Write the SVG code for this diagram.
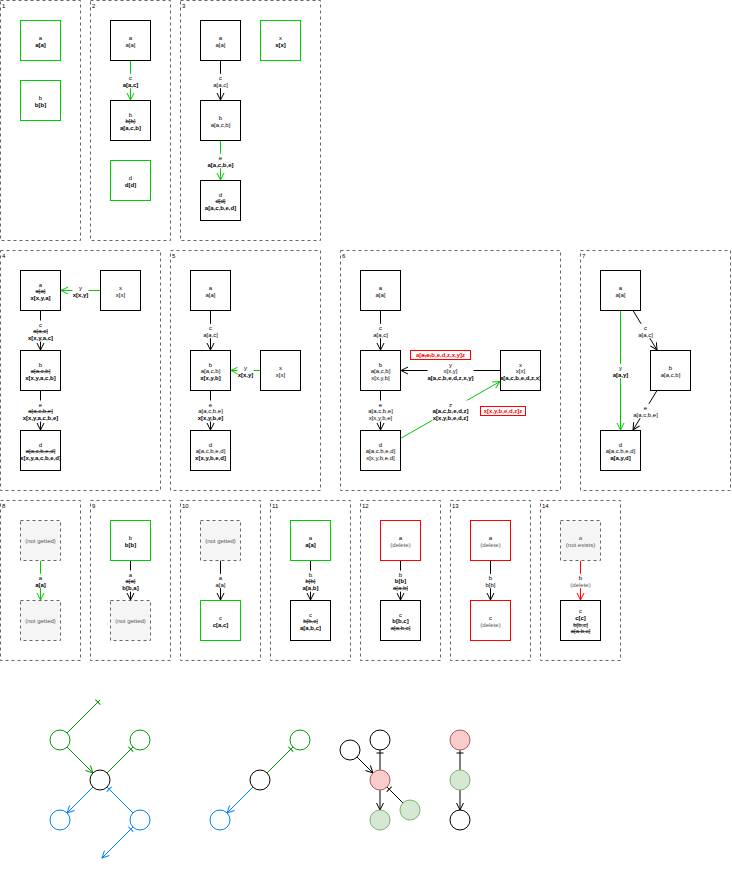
<svg xmlns="http://www.w3.org/2000/svg" width="732" height="870" viewBox="0 0 732 870">
<style>
text{font-family:"Liberation Sans",Arial,Helvetica,sans-serif;font-size:6px;text-anchor:middle;fill:#000}
.b{font-weight:bold}
.s{text-decoration:line-through}
.g{fill:#555}
.rt{fill:#f00;font-weight:bold}
.pl{text-anchor:start}
.pn{fill:none;stroke:#666;stroke-dasharray:3 3}
.nd{fill:#fff;stroke:#000}
.ngr{fill:#fff;stroke:#00cc00}
.nrd{fill:#fff;stroke:#f00}
.nx{fill:#f5f5f5;stroke:#666;stroke-dasharray:3 3}
.e{fill:none;stroke:#000}
.eg{fill:none;stroke:#00cc00}
.er{fill:none;stroke:#f00}
.bg{fill:#fff}
.cw{fill:#fff;stroke:#000}
.cg{fill:#fff;stroke:#009900}
.cb{fill:#fff;stroke:#007fff}
.cr{fill:#f8cecc;stroke:#b85450}
.cgf{fill:#d5e8d4;stroke:#82b366}
.lg{fill:none;stroke:#009900}
.lb{fill:none;stroke:#007fff}
</style>
<defs>
<marker id="ab" viewBox="-8 -5 10 10" markerWidth="10" markerHeight="10" refX="0" refY="0" orient="auto" markerUnits="userSpaceOnUse"><path d="M-7,-3.5L0,0L-7,3.5" fill="none" stroke="#000"/></marker>
<marker id="ag" viewBox="-8 -5 10 10" markerWidth="10" markerHeight="10" refX="0" refY="0" orient="auto" markerUnits="userSpaceOnUse"><path d="M-7,-3.5L0,0L-7,3.5" fill="none" stroke="#00cc00"/></marker>
<marker id="ar" viewBox="-8 -5 10 10" markerWidth="10" markerHeight="10" refX="0" refY="0" orient="auto" markerUnits="userSpaceOnUse"><path d="M-7,-3.5L0,0L-7,3.5" fill="none" stroke="#f00"/></marker>
<marker id="adg" viewBox="-8 -5 10 10" markerWidth="10" markerHeight="10" refX="0" refY="0" orient="auto" markerUnits="userSpaceOnUse"><path d="M-7,-3.5L0,0L-7,3.5" fill="none" stroke="#009900"/></marker>
<marker id="abl" viewBox="-8 -5 10 10" markerWidth="10" markerHeight="10" refX="0" refY="0" orient="auto" markerUnits="userSpaceOnUse"><path d="M-7,-3.5L0,0L-7,3.5" fill="none" stroke="#007fff"/></marker>
<marker id="tb" viewBox="-8 -5 10 10" markerWidth="10" markerHeight="10" refX="0" refY="0" orient="auto-start-reverse" markerUnits="userSpaceOnUse"><path d="M-3,-3.5V3.5" fill="none" stroke="#000"/></marker>
<marker id="tdg" viewBox="-8 -5 10 10" markerWidth="10" markerHeight="10" refX="0" refY="0" orient="auto-start-reverse" markerUnits="userSpaceOnUse"><path d="M-3,-3.5V3.5" fill="none" stroke="#009900"/></marker>
<marker id="tbl" viewBox="-8 -5 10 10" markerWidth="10" markerHeight="10" refX="0" refY="0" orient="auto-start-reverse" markerUnits="userSpaceOnUse"><path d="M-3,-3.5V3.5" fill="none" stroke="#007fff"/></marker>
</defs>
<rect width="732" height="870" fill="#fff"/>

<!-- frames -->
<g id="frames">
<rect class="pn" x="0.5" y="0.5" width="80" height="240"/><text class="pl" x="2" y="8">1</text>
<rect class="pn" x="90.5" y="0.5" width="80" height="240"/><text class="pl" x="92" y="8">2</text>
<rect class="pn" x="180.5" y="0.5" width="140" height="240"/><text class="pl" x="182" y="8">3</text>
<rect class="pn" x="0.5" y="250.5" width="160" height="240"/><text class="pl" x="2" y="258">4</text>
<rect class="pn" x="170.5" y="250.5" width="150" height="240"/><text class="pl" x="172" y="258">5</text>
<rect class="pn" x="340.5" y="250.5" width="220" height="240"/><text class="pl" x="342" y="258">6</text>
<rect class="pn" x="580.5" y="250.5" width="150" height="240"/><text class="pl" x="582" y="258">7</text>
<rect class="pn" x="0.5" y="500.5" width="80" height="160"/><text class="pl" x="2" y="508">8</text>
<rect class="pn" x="90.5" y="500.5" width="80" height="160"/><text class="pl" x="92" y="508">9</text>
<rect class="pn" x="180.5" y="500.5" width="80" height="160"/><text class="pl" x="182" y="508">10</text>
<rect class="pn" x="270.5" y="500.5" width="80" height="160"/><text class="pl" x="272" y="508">11</text>
<rect class="pn" x="360.5" y="500.5" width="80" height="160"/><text class="pl" x="362" y="508">12</text>
<rect class="pn" x="450.5" y="500.5" width="80" height="160"/><text class="pl" x="452" y="508">13</text>
<rect class="pn" x="540.5" y="500.5" width="80" height="160"/><text class="pl" x="542" y="508">14</text>
</g>

<!-- connectors -->
<g id="connectors">
<!-- 2 -->
<line class="eg" x1="130.5" y1="60.5" x2="130.5" y2="100" marker-end="url(#ag)"/>
<!-- 3 -->
<line class="e" x1="220.5" y1="60.5" x2="220.5" y2="100" marker-end="url(#ab)"/>
<line class="eg" x1="220.5" y1="140.5" x2="220.5" y2="180" marker-end="url(#ag)"/>
<!-- 4 -->
<line class="eg" x1="100.5" y1="290.5" x2="61" y2="290.5" marker-end="url(#ag)"/>
<line class="e" x1="40.5" y1="310.5" x2="40.5" y2="350" marker-end="url(#ab)"/>
<line class="e" x1="40.5" y1="390.5" x2="40.5" y2="430" marker-end="url(#ab)"/>
<!-- 5 -->
<line class="e" x1="210.5" y1="310.5" x2="210.5" y2="350" marker-end="url(#ab)"/>
<line class="eg" x1="260.5" y1="370.5" x2="231" y2="370.5" marker-end="url(#ag)"/>
<line class="e" x1="210.5" y1="390.5" x2="210.5" y2="430" marker-end="url(#ab)"/>
<!-- 6 -->
<line class="e" x1="380.5" y1="310.5" x2="380.5" y2="350" marker-end="url(#ab)"/>
<line class="e" x1="380.5" y1="390.5" x2="380.5" y2="430" marker-end="url(#ab)"/>
<line class="e" x1="500.5" y1="370.5" x2="401" y2="370.5" marker-end="url(#ab)"/>
<line class="eg" x1="400.5" y1="438.5" x2="500" y2="381.5" marker-end="url(#ag)"/>
<!-- 7 -->
<line class="e" x1="633" y1="310.5" x2="657" y2="350" marker-end="url(#ab)"/>
<line class="e" x1="657" y1="390.5" x2="633" y2="430" marker-end="url(#ab)"/>
<line class="eg" x1="620.5" y1="310.5" x2="620.5" y2="430" marker-end="url(#ag)"/>
<!-- 8..14 -->
<line class="eg" x1="40.5" y1="560.5" x2="40.5" y2="600" marker-end="url(#ag)"/>
<line class="e" x1="130.5" y1="560.5" x2="130.5" y2="600" marker-end="url(#ab)"/>
<line class="e" x1="220.5" y1="560.5" x2="220.5" y2="600" marker-end="url(#ab)"/>
<line class="e" x1="310.5" y1="560.5" x2="310.5" y2="600" marker-end="url(#ab)"/>
<line class="e" x1="400.5" y1="560.5" x2="400.5" y2="600" marker-end="url(#ab)"/>
<line class="e" x1="490.5" y1="560.5" x2="490.5" y2="600" marker-end="url(#ab)"/>
<line class="er" x1="580.5" y1="560.5" x2="580.5" y2="600" marker-end="url(#ar)"/>

<!-- label backgrounds -->
<rect class="bg" x="121.5" y="73.8" width="18" height="14.4"/>
<rect class="bg" x="212" y="73.8" width="17" height="14.4"/>
<rect class="bg" x="206.5" y="153.8" width="28" height="14.4"/>
<rect class="bg" x="72.5" y="283.8" width="16" height="14.4"/>
<rect class="bg" x="26.5" y="320.5" width="28" height="21.1"/>
<rect class="bg" x="21.5" y="400.5" width="38" height="21.1"/>
<rect class="bg" x="202" y="323.8" width="17" height="14.4"/>
<rect class="bg" x="237.5" y="363.8" width="16" height="14.4"/>
<rect class="bg" x="196.5" y="400.5" width="28" height="21.1"/>
<rect class="bg" x="372" y="323.8" width="17" height="14.4"/>
<rect class="bg" x="367" y="400.5" width="27" height="21.1"/>
<rect class="bg" x="427.5" y="360.5" width="46" height="21.1"/>
<rect class="bg" x="432.5" y="400.5" width="36" height="21.1"/>
<rect class="bg" x="637" y="323.8" width="17" height="14.4"/>
<rect class="bg" x="632" y="403.8" width="27" height="14.4"/>
<rect class="bg" x="611.5" y="363.8" width="18" height="14.4"/>
<rect class="bg" x="34" y="573.8" width="13" height="14.4"/>
<rect class="bg" x="121.5" y="570.5" width="18" height="21.1"/>
<rect class="bg" x="214.5" y="573.8" width="12" height="14.4"/>
<rect class="bg" x="301.5" y="570.5" width="18" height="21.1"/>
<rect class="bg" x="391.5" y="570.5" width="18" height="21.1"/>
<rect class="bg" x="484.5" y="573.8" width="12" height="14.4"/>
<rect class="bg" x="569.5" y="573.8" width="22" height="14.4"/>

<!-- labels -->
<text x="130.5" y="79.8">c<tspan x="130.5" dy="6.7" class="b">a[a,c]</tspan></text>
<text x="220.5" y="79.8">c<tspan x="220.5" dy="6.7">a[a,c]</tspan></text>
<text x="220.5" y="159.8">e<tspan x="220.5" dy="6.7" class="b">a[a,c,b,e]</tspan></text>
<text x="80.5" y="289.8">y<tspan x="80.5" dy="6.7" class="b">x[x,y]</tspan></text>
<text x="40.5" y="326.5">c<tspan x="40.5" dy="6.7" class="s">a[a,c]</tspan><tspan x="40.5" dy="6.7" class="b">x[x,y,a,c]</tspan></text>
<text x="40.5" y="406.5">e<tspan x="40.5" dy="6.7" class="s">a[a,c,b,e]</tspan><tspan x="40.5" dy="6.7" class="b">x[x,y,a,c,b,e]</tspan></text>
<text x="210.5" y="329.8">c<tspan x="210.5" dy="6.7">a[a,c]</tspan></text>
<text x="245.5" y="369.8">y<tspan x="245.5" dy="6.7" class="b">x[x,y]</tspan></text>
<text x="210.5" y="406.5">e<tspan x="210.5" dy="6.7">a[a,c,b,e]</tspan><tspan x="210.5" dy="6.7" class="b">x[x,y,b,e]</tspan></text>
<text x="380.5" y="329.8">c<tspan x="380.5" dy="6.7">a[a,c]</tspan></text>
<text x="380.5" y="406.5">e<tspan x="380.5" dy="6.7">a[a,c,b,e]</tspan><tspan x="380.5" dy="6.7">x[x,y,b,e]</tspan></text>
<text x="450.5" y="366.5">y<tspan x="450.5" dy="6.7">x[x,y]</tspan><tspan x="450.5" dy="6.7" class="b">a[a,c,b,e,d,z,x,y]</tspan></text>
<text x="450.5" y="406.5">z<tspan x="450.5" dy="6.7" class="b">a[a,c,b,e,d,z]</tspan><tspan x="450.5" dy="6.7" class="b">x[x,y,b,e,d,z]</tspan></text>
<text x="645.5" y="329.8">c<tspan x="645.5" dy="6.7">a[a,c]</tspan></text>
<text x="645.5" y="409.8">e<tspan x="645.5" dy="6.7">a[a,c,b,e]</tspan></text>
<text x="620.5" y="369.8">y<tspan x="620.5" dy="6.7" class="b">a[a,y]</tspan></text>
<text x="40.5" y="579.8">a<tspan x="40.5" dy="6.7" class="b">a[a]</tspan></text>
<text x="130.5" y="576.5">a<tspan x="130.5" dy="6.7" class="s">a[a]</tspan><tspan x="130.5" dy="6.7" class="b">b[b,a]</tspan></text>
<text x="220.5" y="579.8">a<tspan x="220.5" dy="6.7">a[a]</tspan></text>
<text x="310.5" y="576.5">b<tspan x="310.5" dy="6.7" class="s">b[b]</tspan><tspan x="310.5" dy="6.7" class="b">a[a,b]</tspan></text>
<text x="400.5" y="576.5">b<tspan x="400.5" dy="6.7" class="b">b[b]</tspan><tspan x="400.5" dy="6.7" class="s">a[a,b]</tspan></text>
<text x="490.5" y="579.8">b<tspan x="490.5" dy="6.7">b[b]</tspan></text>
<text x="580.5" y="579.8">b<tspan x="580.5" dy="6.7" class="g">(delete)</tspan></text>

<!-- conflict notes -->
<rect x="410.5" y="350.5" width="60" height="9" fill="#fff" stroke="#f00"/>
<text class="rt" x="440.5" y="357.2">a[<tspan class="s">a,c,</tspan>b,e,d,z,x,y]z</text>
<rect x="480.5" y="406.5" width="45" height="9" fill="#fff" stroke="#f00"/>
<text class="rt" x="503" y="413.2">x[x,y,b,e,d,z]z</text>

<!-- small graphs -->
<line class="lg" x1="67.1" y1="732.9" x2="100" y2="700" marker-end="url(#tdg)"/>
<line class="lg" x1="67.1" y1="747.1" x2="92.9" y2="772.9" marker-end="url(#adg)"/>
<line class="lg" x1="107.1" y1="772.9" x2="132.9" y2="747.1" marker-end="url(#tdg)"/>
<line class="lb" x1="92.9" y1="787.1" x2="67.1" y2="812.9" marker-end="url(#abl)"/>
<line class="lb" x1="132.9" y1="812.9" x2="107.1" y2="787.1" marker-end="url(#tbl)"/>
<line class="lb" x1="132.9" y1="827.1" x2="102" y2="858" marker-start="url(#tbl)" marker-end="url(#abl)"/>
<line class="lg" x1="267.1" y1="772.9" x2="292.9" y2="747.1" marker-end="url(#tdg)"/>
<line class="lb" x1="252.9" y1="787.1" x2="227.1" y2="812.9" marker-end="url(#abl)"/>
<line class="e" x1="357.1" y1="757.1" x2="372.9" y2="772.9" marker-end="url(#ab)"/>
<line class="e" x1="380" y1="750" x2="380" y2="770" marker-start="url(#tb)"/>
<line class="e" x1="380" y1="790" x2="380" y2="810" marker-end="url(#ab)"/>
<line class="e" x1="402.9" y1="802.9" x2="387.1" y2="787.1" marker-end="url(#tb)"/>
<line class="e" x1="460" y1="750" x2="460" y2="770" marker-start="url(#tb)"/>
<line class="e" x1="460" y1="790" x2="460" y2="810" marker-end="url(#ab)"/>
</g>

<!-- panel 1 -->
<g id="p1-a"><rect class="ngr" x="20.5" y="20.5" width="40" height="40"/><text x="40.5" y="39.8">a<tspan x="40.5" dy="6.7" class="b">a[a]</tspan></text></g>
<g id="p1-b"><rect class="ngr" x="20.5" y="80.5" width="40" height="40"/><text x="40.5" y="99.8">b<tspan x="40.5" dy="6.7" class="b">b[b]</tspan></text></g>
<!-- panel 2 -->
<g id="p2-a"><rect class="nd" x="110.5" y="20.5" width="40" height="40"/><text x="130.5" y="39.8">a<tspan x="130.5" dy="6.7">a[a]</tspan></text></g>
<g id="p2-b"><rect class="nd" x="110.5" y="100.5" width="40" height="40"/><text x="130.5" y="116.5">b<tspan x="130.5" dy="6.7" class="s">b[b]</tspan><tspan x="130.5" dy="6.7" class="b">a[a,c,b]</tspan></text></g>
<g id="p2-d"><rect class="ngr" x="110.5" y="160.5" width="40" height="40"/><text x="130.5" y="179.8">d<tspan x="130.5" dy="6.7" class="b">d[d]</tspan></text></g>
<!-- panel 3 -->
<g id="p3-a"><rect class="nd" x="200.5" y="20.5" width="40" height="40"/><text x="220.5" y="39.8">a<tspan x="220.5" dy="6.7">a[a]</tspan></text></g>
<g id="p3-x"><rect class="ngr" x="260.5" y="20.5" width="40" height="40"/><text x="280.5" y="39.8">x<tspan x="280.5" dy="6.7" class="b">x[x]</tspan></text></g>
<g id="p3-b"><rect class="nd" x="200.5" y="100.5" width="40" height="40"/><text x="220.5" y="119.8">b<tspan x="220.5" dy="6.7">a[a,c,b]</tspan></text></g>
<g id="p3-d"><rect class="nd" x="200.5" y="180.5" width="40" height="40"/><text x="220.5" y="196.5">d<tspan x="220.5" dy="6.7" class="s">d[d]</tspan><tspan x="220.5" dy="6.7" class="b">a[a,c,b,e,d]</tspan></text></g>
<!-- panel 4 -->
<g id="p4-a"><rect class="nd" x="20.5" y="270.5" width="40" height="40"/><text x="40.5" y="286.5">a<tspan x="40.5" dy="6.7" class="s">a[a]</tspan><tspan x="40.5" dy="6.7" class="b">x[x,y,a]</tspan></text></g>
<g id="p4-x"><rect class="nd" x="100.5" y="270.5" width="40" height="40"/><text x="120.5" y="289.8">x<tspan x="120.5" dy="6.7">x[x]</tspan></text></g>
<g id="p4-b"><rect class="nd" x="20.5" y="350.5" width="40" height="40"/><text x="40.5" y="366.5">b<tspan x="40.5" dy="6.7" class="s">a[a,c,b]</tspan><tspan x="40.5" dy="6.7" class="b">x[x,y,a,c,b]</tspan></text></g>
<g id="p4-d"><rect class="nd" x="20.5" y="430.5" width="40" height="40"/><text x="40.5" y="446.5">d<tspan x="40.5" dy="6.7" class="s">a[a,c,b,e,d]</tspan><tspan x="40.5" dy="6.7" class="b">x[x,y,a,c,b,e,d]</tspan></text></g>
<!-- panel 5 -->
<g id="p5-a"><rect class="nd" x="190.5" y="270.5" width="40" height="40"/><text x="210.5" y="289.8">a<tspan x="210.5" dy="6.7">a[a]</tspan></text></g>
<g id="p5-b"><rect class="nd" x="190.5" y="350.5" width="40" height="40"/><text x="210.5" y="366.5">b<tspan x="210.5" dy="6.7">a[a,c,b]</tspan><tspan x="210.5" dy="6.7" class="b">x[x,y,b]</tspan></text></g>
<g id="p5-x"><rect class="nd" x="260.5" y="350.5" width="40" height="40"/><text x="280.5" y="369.8">x<tspan x="280.5" dy="6.7">x[x]</tspan></text></g>
<g id="p5-d"><rect class="nd" x="190.5" y="430.5" width="40" height="40"/><text x="210.5" y="446.5">d<tspan x="210.5" dy="6.7">a[a,c,b,e,d]</tspan><tspan x="210.5" dy="6.7" class="b">x[x,y,b,e,d]</tspan></text></g>
<!-- panel 6 -->
<g id="p6-a"><rect class="nd" x="360.5" y="270.5" width="40" height="40"/><text x="380.5" y="289.8">a<tspan x="380.5" dy="6.7">a[a]</tspan></text></g>
<g id="p6-b"><rect class="nd" x="360.5" y="350.5" width="40" height="40"/><text x="380.5" y="366.5">b<tspan x="380.5" dy="6.7">a[a,c,b]</tspan><tspan x="380.5" dy="6.7">x[x,y,b]</tspan></text></g>
<g id="p6-x"><rect class="nd" x="500.5" y="350.5" width="40" height="40"/><text x="520.5" y="366.5">x<tspan x="520.5" dy="6.7">x[x]</tspan><tspan x="520.5" dy="6.7" class="b">a[a,c,b,e,d,z,x]</tspan></text></g>
<g id="p6-d"><rect class="nd" x="360.5" y="430.5" width="40" height="40"/><text x="380.5" y="446.5">d<tspan x="380.5" dy="6.7">a[a,c,b,e,d]</tspan><tspan x="380.5" dy="6.7">x[x,y,b,e,d]</tspan></text></g>
<!-- panel 7 -->
<g id="p7-a"><rect class="nd" x="600.5" y="270.5" width="40" height="40"/><text x="620.5" y="289.8">a<tspan x="620.5" dy="6.7">a[a]</tspan></text></g>
<g id="p7-b"><rect class="nd" x="650.5" y="350.5" width="40" height="40"/><text x="670.5" y="369.8">b<tspan x="670.5" dy="6.7">a[a,c,b]</tspan></text></g>
<g id="p7-d"><rect class="nd" x="600.5" y="430.5" width="40" height="40"/><text x="620.5" y="446.5">d<tspan x="620.5" dy="6.7">a[a,c,b,e,d]</tspan><tspan x="620.5" dy="6.7" class="b">a[a,y,d]</tspan></text></g>
<!-- panel 8 -->
<g id="p8-top"><rect class="nx" x="20.5" y="520.5" width="40" height="40"/><text class="g" x="40.5" y="543.2">(not getted)</text></g>
<g id="p8-bottom"><rect class="nx" x="20.5" y="600.5" width="40" height="40"/><text class="g" x="40.5" y="623.2">(not getted)</text></g>
<!-- panel 9 -->
<g id="p9-b"><rect class="ngr" x="110.5" y="520.5" width="40" height="40"/><text x="130.5" y="539.8">b<tspan x="130.5" dy="6.7" class="b">b[b]</tspan></text></g>
<g id="p9-bottom"><rect class="nx" x="110.5" y="600.5" width="40" height="40"/><text class="g" x="130.5" y="623.2">(not getted)</text></g>
<!-- panel 10 -->
<g id="p10-top"><rect class="nx" x="200.5" y="520.5" width="40" height="40"/><text class="g" x="220.5" y="543.2">(not getted)</text></g>
<g id="p10-c"><rect class="ngr" x="200.5" y="600.5" width="40" height="40"/><text x="220.5" y="619.8">c<tspan x="220.5" dy="6.7" class="b">c[a,c]</tspan></text></g>
<!-- panel 11 -->
<g id="p11-a"><rect class="ngr" x="290.5" y="520.5" width="40" height="40"/><text x="310.5" y="539.8">a<tspan x="310.5" dy="6.7" class="b">a[a]</tspan></text></g>
<g id="p11-c"><rect class="nd" x="290.5" y="600.5" width="40" height="40"/><text x="310.5" y="616.5">c<tspan x="310.5" dy="6.7" class="s">b[b,c]</tspan><tspan x="310.5" dy="6.7" class="b">a[a,b,c]</tspan></text></g>
<!-- panel 12 -->
<g id="p12-a"><rect class="nrd" x="380.5" y="520.5" width="40" height="40"/><text x="400.5" y="539.8">a<tspan x="400.5" dy="6.7" class="g">(delete)</tspan></text></g>
<g id="p12-c"><rect class="nd" x="380.5" y="600.5" width="40" height="40"/><text x="400.5" y="616.5">c<tspan x="400.5" dy="6.7" class="b">b[b,c]</tspan><tspan x="400.5" dy="6.7" class="s">a[a,b,c]</tspan></text></g>
<!-- panel 13 -->
<g id="p13-a"><rect class="nrd" x="470.5" y="520.5" width="40" height="40"/><text x="490.5" y="539.8">a<tspan x="490.5" dy="6.7" class="g">(delete)</tspan></text></g>
<g id="p13-c"><rect class="nrd" x="470.5" y="600.5" width="40" height="40"/><text x="490.5" y="619.8">c<tspan x="490.5" dy="6.7" class="g">(delete)</tspan></text></g>
<!-- panel 14 -->
<g id="p14-a"><rect class="nx" x="560.5" y="520.5" width="40" height="40"/><text class="g" x="580.5" y="539.8">a<tspan x="580.5" dy="6.7">(not exists)</tspan></text></g>
<g id="p14-c"><rect class="nd" x="560.5" y="600.5" width="40" height="40"/><text x="580.5" y="613.2">c<tspan x="580.5" dy="6.7" class="b">c[c]</tspan><tspan x="580.5" dy="6.7" class="s">b[b,c]</tspan><tspan x="580.5" dy="6.7" class="s">a[a,b,c]</tspan></text></g>

<!-- small graphs: circles -->
<g id="g1-tl"><circle class="cg" cx="60" cy="740" r="10"/></g>
<g id="g1-tr"><circle class="cg" cx="140" cy="740" r="10"/></g>
<g id="g1-center"><circle class="cw" cx="100" cy="780" r="10"/></g>
<g id="g1-bl"><circle class="cb" cx="60" cy="820" r="10"/></g>
<g id="g1-br"><circle class="cb" cx="140" cy="820" r="10"/></g>
<g id="g2-tr"><circle class="cg" cx="300" cy="740" r="10"/></g>
<g id="g2-center"><circle class="cw" cx="260" cy="780" r="10"/></g>
<g id="g2-bl"><circle class="cb" cx="220" cy="820" r="10"/></g>
<g id="g3-left"><circle class="cw" cx="350" cy="750" r="10"/></g>
<g id="g3-top"><circle class="cw" cx="380" cy="740" r="10"/></g>
<g id="g3-mid"><circle class="cr" cx="380" cy="780" r="10"/></g>
<g id="g3-bottom"><circle class="cgf" cx="380" cy="820" r="10"/></g>
<g id="g3-right"><circle class="cgf" cx="410" cy="810" r="10"/></g>
<g id="g4-top"><circle class="cr" cx="460" cy="740" r="10"/></g>
<g id="g4-mid"><circle class="cgf" cx="460" cy="780" r="10"/></g>
<g id="g4-bottom"><circle class="cw" cx="460" cy="820" r="10"/></g>
</svg>
